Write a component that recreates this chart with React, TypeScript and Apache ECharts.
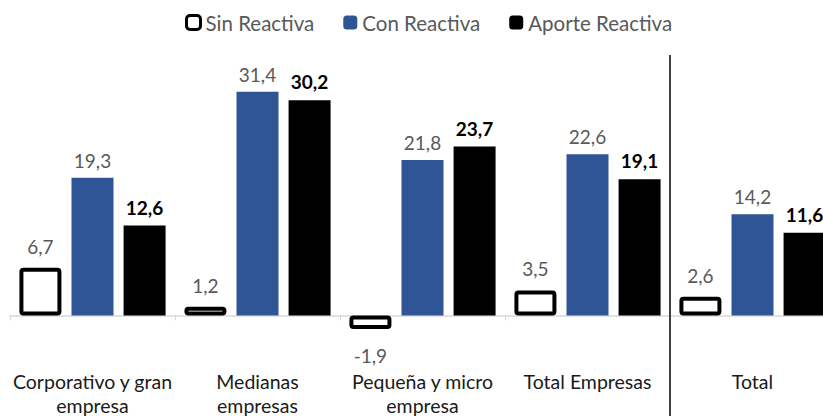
import React, { useEffect, useRef } from "react";
import * as echarts from "echarts";

const categories = [
  "Corporativo y gran\nempresa",
  "Medianas\nempresas",
  "Pequeña y micro\nempresa",
  "Total Empresas",
  "Total",
];
const seriesNames = ["Sin Reactiva", "Con Reactiva", "Aporte Reactiva"];
const sinReactiva = [6.7, 1.2, -1.9, 3.5, 2.6];
const conReactiva = [19.3, 31.4, 21.8, 22.6, 14.2];
const aporteReactiva = [12.6, 30.2, 23.7, 19.1, 11.6];

const FONT = "Lato";
const fmt = (p: any) => Number(p.value).toFixed(1).replace(".", ",");

export default function App() {
  const ref = useRef<HTMLDivElement>(null);
  useEffect(() => {
    if (!ref.current) return;
    const chart = echarts.init(ref.current, undefined, { renderer: "svg" });
    const option: any = {
      animation: false,
      textStyle: { fontFamily: FONT },
      legend: {
        left: 180,
        top: 7,
        itemWidth: 14,
        itemHeight: 14,
        itemGap: 29,
        textStyle: { fontSize: 20.5, color: "#595959", fontFamily: FONT },
        data: [
          {
            name: seriesNames[0],
            itemStyle: { color: "#fff", borderColor: "#000", borderWidth: 3 },
          },
          { name: seriesNames[1], itemStyle: { color: "#2F5597" } },
          { name: seriesNames[2], itemStyle: { color: "#000" } },
        ],
      },
      grid: {
        left: 10,
        top: 66,
        width: 825,
        height: 285,
        containLabel: false,
        outerBoundsMode: "none",
      },
      xAxis: {
        type: "category",
        data: categories,
        axisLine: { lineStyle: { color: "#D9D9D9", width: 1.5 } },
        axisTick: { show: true, length: 5, lineStyle: { color: "#D9D9D9" } },
        axisLabel: {
          fontSize: 19.5,
          color: "#1a1a1a",
          margin: 18,
          lineHeight: 24,
          interval: 0,
          fontFamily: FONT,
        },
      },
      yAxis: {
        type: "value",
        min: -5,
        max: 35,
        show: false,
        splitLine: { show: false },
      },
      series: [
        {
          name: seriesNames[0],
          type: "bar",
          data: sinReactiva.map((v) => ({
            value: v,
            label: v < 0 ? { position: "bottom", distance: 17 } : {},
          })),
          barWidth: 42,
          barGap: "24%",
          itemStyle: {
            color: "#fff",
            borderColor: "#000",
            borderWidth: 4,
            borderRadius: 2,
          },
          label: {
            show: true,
            position: "top",
            distance: 12,
            fontSize: 19,
            color: "#595959",
            formatter: fmt,
            fontFamily: FONT,
          },
        },
        {
          name: seriesNames[1],
          type: "bar",
          data: conReactiva,
          barWidth: 42,
          barGap: "24%",
          itemStyle: { color: "#2F5597" },
          label: {
            show: true,
            position: "top",
            distance: 8,
            fontSize: 19,
            color: "#595959",
            formatter: fmt,
            fontFamily: FONT,
          },
        },
        {
          name: seriesNames[2],
          type: "bar",
          data: aporteReactiva,
          barWidth: 42,
          barGap: "24%",
          itemStyle: { color: "#000" },
          label: {
            show: true,
            position: "top",
            distance: 9,
            fontSize: 19,
            fontWeight: "bold",
            color: "#000",
            formatter: fmt,
            fontFamily: FONT,
          },
        },
      ],
    };
    chart.setOption(option);
    const c3 = chart.convertToPixel({ xAxisIndex: 0 }, 3) as number;
    const c4 = chart.convertToPixel({ xAxisIndex: 0 }, 4) as number;
    const sepX = Math.round((c3 + c4) / 2);
    chart.setOption({
      graphic: [
        {
          type: "line",
          shape: { x1: sepX, y1: 55, x2: sepX, y2: 416 },
          style: { stroke: "#000", lineWidth: 1.5 },
          z: 10,
        },
      ],
    });
    return () => chart.dispose();
  }, []);
  return <div ref={ref} style={{ width: 823, height: 416, position: "absolute", left: 0, top: 0 }} />;
}
